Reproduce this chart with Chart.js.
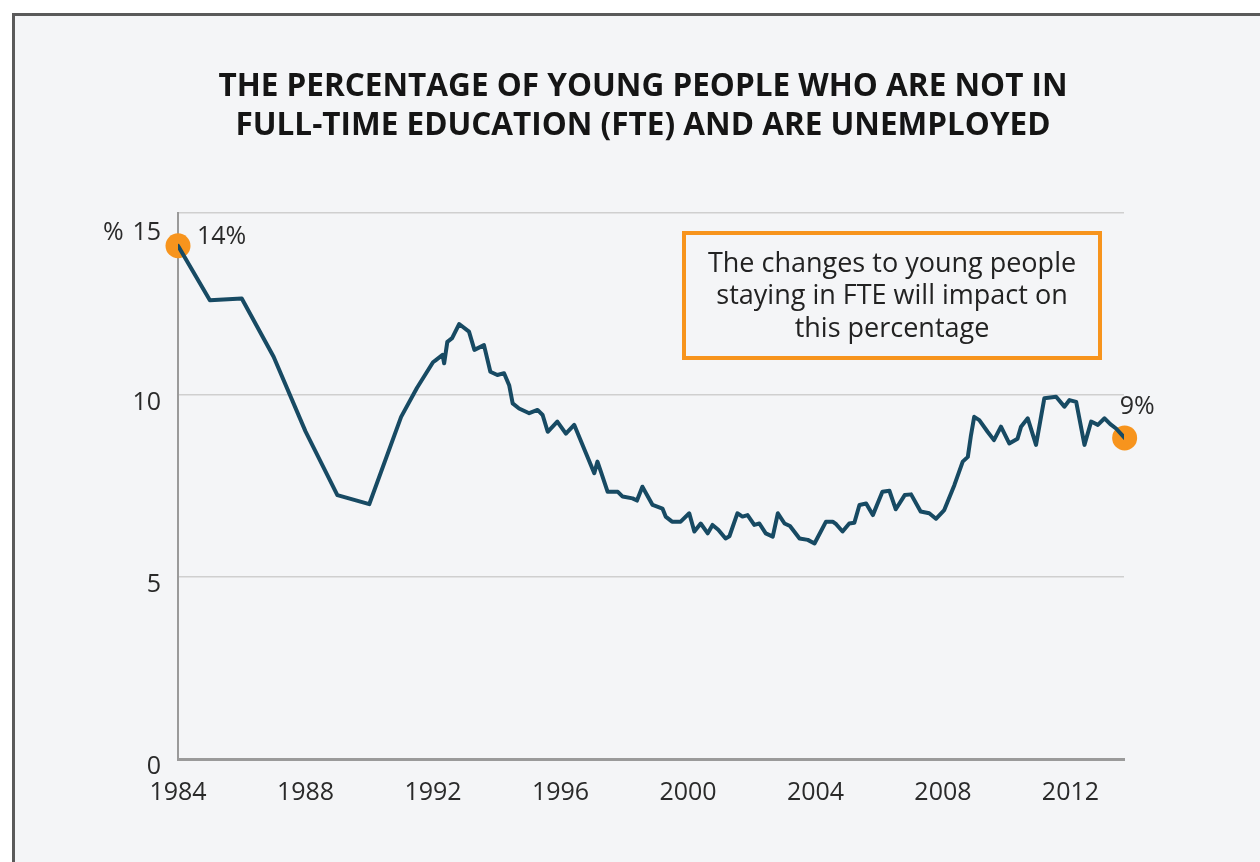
<!DOCTYPE html>
<html>
<head>
<meta charset="utf-8">
<script src="https://cdn.jsdelivr.net/npm/chart.js@4.4.1/dist/chart.umd.min.js"></script>
<style>
  html, body { margin: 0; padding: 0; background: #ffffff; }
  #wrap { position: absolute; left: 0; top: 0; width: 1260px; height: 862px; }
</style>
</head>
<body>
<div id="wrap"><canvas id="chart-nofte" width="1260" height="862"></canvas></div>
<script>
// Datos de la serie (año decimal, porcentaje)
const years = [
    1984.0, 1985.0, 1986.0, 1987.0, 1988.0, 1989.0, 1990.0, 1991.0, 1991.5, 1992.0,
    1992.09, 1992.3, 1992.35, 1992.45, 1992.6, 1992.82, 1993.13, 1993.3, 1993.6, 1993.8,
    1994.02, 1994.23, 1994.39, 1994.5, 1994.7, 1995.02, 1995.28, 1995.44, 1995.6, 1995.9,
    1996.17, 1996.43, 1996.8, 1997.06, 1997.16, 1997.27, 1997.48, 1997.8, 1997.95, 1998.26,
    1998.4, 1998.57, 1998.89, 1999.2, 1999.3, 1999.5, 1999.77, 2000.04, 2000.2, 2000.4,
    2000.62, 2000.77, 2000.95, 2001.18, 2001.3, 2001.55, 2001.71, 2001.87, 2002.08, 2002.24,
    2002.44, 2002.66, 2002.82, 2003.03, 2003.2, 2003.5, 2003.76, 2003.97, 2004.33, 2004.54,
    2004.65, 2004.85, 2005.06, 2005.22, 2005.38, 2005.59, 2005.8, 2006.1, 2006.32, 2006.52,
    2006.8, 2007.0, 2007.3, 2007.57, 2007.78, 2008.04, 2008.36, 2008.62, 2008.78, 2008.88,
    2008.98, 2009.14, 2009.4, 2009.6, 2009.82, 2010.08, 2010.34, 2010.45, 2010.66, 2010.92,
    2011.18, 2011.55, 2011.81, 2011.97, 2012.18, 2012.44, 2012.65, 2012.86, 2013.07, 2013.25,
    2013.43, 2013.7
];
const rates = [
    14.1, 12.6, 12.65, 11.05, 9.0, 7.25, 7.0, 9.4, 10.2, 10.9,
    10.96, 11.1, 10.87, 11.46, 11.56, 11.95, 11.74, 11.24, 11.37, 10.64,
    10.55, 10.6, 10.27, 9.77, 9.63, 9.5, 9.59, 9.45, 8.99, 9.27,
    8.94, 9.18, 8.4, 7.85, 8.17, 7.89, 7.34, 7.34, 7.21, 7.16,
    7.1, 7.48, 6.98, 6.88, 6.66, 6.52, 6.52, 6.75, 6.25, 6.47,
    6.2, 6.43, 6.3, 6.06, 6.12, 6.75, 6.66, 6.7, 6.43, 6.47,
    6.2, 6.11, 6.75, 6.47, 6.4, 6.06, 6.02, 5.92, 6.52, 6.52,
    6.45, 6.25, 6.47, 6.49, 6.98, 7.02, 6.7, 7.34, 7.37, 6.86,
    7.25, 7.27, 6.8, 6.75, 6.6, 6.84, 7.53, 8.17, 8.3, 8.9,
    9.4, 9.31, 8.99, 8.76, 9.13, 8.67, 8.8, 9.13, 9.36, 8.63,
    9.91, 9.95, 9.68, 9.86, 9.81, 8.63, 9.27, 9.18, 9.36, 9.2,
    9.08, 8.82
];
const xTicks = [1984, 1988, 1992, 1996, 2000, 2004, 2008, 2012];
const yTicks = [0, 5, 10, 15];
const titleLines = [
    'THE PERCENTAGE OF YOUNG PEOPLE WHO ARE NOT IN',
    'FULL-TIME EDUCATION (FTE) AND ARE UNEMPLOYED'
];
const noteLines = [
    'The changes to young people',
    'staying in FTE will impact on',
    'this percentage'
];
const startLabel = '14%';
const endLabel = '9%';

const FONT = '"Open Sans", "Noto Sans", sans-serif';

// Marco, título, etiquetas y nota
const decoracion = {
    id: 'decoracion',
    beforeDraw(chart) {
        const c = chart.ctx;
        c.save();
        c.fillStyle = '#ffffff';
        c.fillRect(0, 0, chart.width, chart.height);
        c.fillStyle = '#f4f5f7';
        c.fillRect(12, 13, chart.width, chart.height);
        c.strokeStyle = '#5a5a5a';
        c.lineWidth = 3;
        c.beginPath();
        c.moveTo(13.5, chart.height + 5);
        c.lineTo(13.5, 14.5);
        c.lineTo(chart.width + 5, 14.5);
        c.stroke();

        c.fillStyle = '#151515';
        c.textAlign = 'center';
        c.textBaseline = 'middle';
        c.font = 'bold 31.5px ' + FONT;
        c.fillText(titleLines[0], 643, 87);
        c.fillText(titleLines[1], 643, 126);
        c.restore();
    },
    afterDraw(chart) {
        const c = chart.ctx;
        const xs = chart.scales.x;
        const ys = chart.scales.y;
        c.save();
        c.fillStyle = '#2a2a2a';
        c.font = '25px ' + FONT;
        c.textBaseline = 'middle';

        // eje x
        c.textAlign = 'center';
        xTicks.forEach(t => c.fillText(String(t), xs.getPixelForValue(t), 793));

        // eje y
        c.textAlign = 'right';
        yTicks.forEach(t => {
            const py = ys.getPixelForValue(t);
            const off = t === 15 ? 20 : 8;
            c.fillText(String(t), 161, py + off);
        });
        c.textAlign = 'left';
        c.fillText('%', 103, ys.getPixelForValue(15) + 20);

        // etiquetas de los puntos
        const first = chart.getDatasetMeta(1).data[0];
        const last = chart.getDatasetMeta(1).data[1];
        c.fillText(startLabel, first.x + 19, first.y - 9);
        c.fillText(endLabel, last.x - 5, last.y - 31);

        // nota
        c.strokeStyle = '#f7941d';
        c.lineWidth = 4;
        c.strokeRect(684, 233, 416, 125);
        c.textAlign = 'center';
        c.fillStyle = '#222';
        c.font = '27px ' + FONT;
        noteLines.forEach((l, i) => c.fillText(l, 892, 264 + i * 32.5));
        c.restore();
    }
};

const puntos = years.map((x, i) => ({ x: x, y: rates[i] }));
const extremos = [puntos[0], puntos[puntos.length - 1]];

new Chart(document.getElementById('chart-nofte'), {
    type: 'line',
    data: {
        datasets: [{
            data: puntos,
            borderColor: '#174a63',
            borderWidth: 4,
            pointRadius: 0,
            tension: 0,
            borderJoinStyle: 'round',
            borderCapStyle: 'round'
        }, {
            data: extremos,
            showLine: false,
            pointRadius: 12.5,
            pointBackgroundColor: '#f7941d',
            pointBorderWidth: 0,
            clip: false
        }]
    },
    options: {
        responsive: false,
        animation: false,
        events: [],
        layout: {
            padding: { left: 178, right: 136, top: 213, bottom: 103 }
        },
        plugins: {
            legend: { display: false },
            tooltip: { enabled: false }
        },
        scales: {
            x: {
                type: 'linear',
                min: 1984,
                max: 2013.68,
                grid: { display: false, drawTicks: false },
                border: { display: true, color: '#9a9a9a', width: 3 },
                ticks: { display: false }
            },
            y: {
                min: 0,
                max: 15,
                afterBuildTicks: scale => {
                    scale.ticks = yTicks.map(v => ({ value: v }));
                },
                grid: {
                    drawTicks: false,
                    color: ctx => ctx.tick && ctx.tick.value === 0 ? 'rgba(0,0,0,0)' : '#cfcfcf',
                    lineWidth: 1.5
                },
                border: { display: true, color: '#9a9a9a', width: 2 },
                ticks: { display: false }
            }
        }
    },
    plugins: [decoracion]
});
</script>
</body>
</html>
